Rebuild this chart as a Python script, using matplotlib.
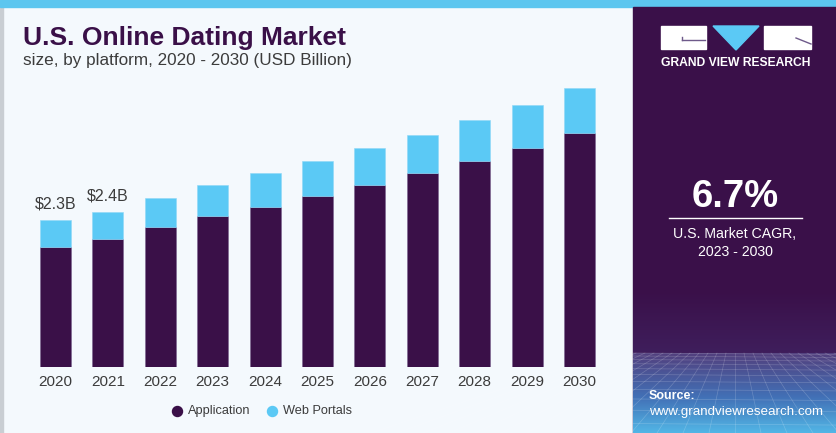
import numpy as np
import matplotlib
matplotlib.use("Agg")
import matplotlib.pyplot as plt
from matplotlib.patches import Rectangle, Polygon
from matplotlib.colors import to_rgb

plt.rcParams['font.family'] = ['Liberation Sans', 'DejaVu Sans']

years = ["2020", "2021", "2022", "2023", "2024", "2025", "2026", "2027", "2028", "2029", "2030"]
application = [1.88, 2.00, 2.19, 2.36, 2.50, 2.67, 2.84, 3.03, 3.22, 3.42, 3.66]
web_portals = [0.42, 0.42, 0.45, 0.48, 0.53, 0.55, 0.58, 0.59, 0.64, 0.67, 0.70]
bar_labels = {0: "$2.3B", 1: "$2.4B"}
series_names = ["Application", "Web Portals"]

C_APP = "#3A1048"
C_WEB = "#5BC9F5"
C_BG = "#F4F9FD"
C_PANEL = "#3A1049"

W, H = 836, 433
fig = plt.figure(figsize=(W / 100, H / 100), dpi=100)

# background layer in pixel coordinates
bg = fig.add_axes([0, 0, 1, 1], zorder=-1)
bg.set_xlim(0, W)
bg.set_ylim(H, 0)
bg.axis("off")
bg.add_patch(Rectangle((0, 0), W, H, color=C_BG))
bg.add_patch(Rectangle((0, 0), 2.5, H, color="#C9CED3"))
bg.add_patch(Rectangle((0, 0), W, 7, color="#5CC6EF"))
bg.add_patch(Rectangle((633, 7), W - 633, H - 7, color=C_PANEL))

# upper subtle gradient and lower blue gradient in panel
top_c = np.array(to_rgb("#3A1049"))
mid_c = np.array(to_rgb("#3F1E5C"))
g1 = np.linspace(0, 1, 60)[:, None]
grad1 = (top_c * (1 - g1) + mid_c * g1)[:, None, :]
bg.imshow(grad1, extent=[633, W, 353, 290], aspect="auto", zorder=1)
c_a = np.array(to_rgb("#52407E"))
c_b = np.array(to_rgb("#4270B6"))
c_c = np.array(to_rgb("#52B6E6"))
t = np.linspace(0, 1, 100)[:, None]
grad2 = np.where(t < 0.55, c_a * (1 - t / 0.55) + c_b * (t / 0.55),
                 c_b * (1 - (t - 0.55) / 0.45) + c_c * ((t - 0.55) / 0.45))
bg.imshow(grad2[:, None, :], extent=[633, W, H, 353], aspect="auto", zorder=1)
# mesh lines (decorative)
for k in range(-14, 15):
    x0 = 735 + k * 9
    x1 = 735 + k * 26
    bg.plot([x0, x1], [353, H], color="white", lw=0.5, alpha=0.2, zorder=2)
yy = 353
step = 3.0
while yy < H:
    bg.plot([633, W], [yy, yy + 1.5], color="white", lw=0.5, alpha=0.2, zorder=2)
    yy += step
    step *= 1.18

# logo
bg.add_patch(Rectangle((661, 26), 45, 23, color="white", zorder=3))
bg.add_patch(Polygon([[713, 26], [759, 26], [736, 50]], closed=True, color=C_WEB, zorder=3))
bg.add_patch(Rectangle((764, 26), 47, 23, color="white", zorder=3))
bg.plot([682, 705], [40, 40], color="#6E5A8A", lw=1.0, zorder=4)
bg.plot([682, 682], [36.5, 40], color="#6E5A8A", lw=1.0, zorder=4)
bg.plot([796, 811], [38, 44], color="#6E5A8A", lw=1.0, zorder=4)
bg.text(736, 63, "GRAND VIEW RESEARCH", color="white", fontsize=8.7, fontweight="bold",
        ha="center", va="center", zorder=4)

# CAGR block
bg.text(735, 197, "6.7%", color="white", fontsize=27.5, fontweight="bold", ha="center", va="center", zorder=4)
bg.plot([669, 802], [218, 218], color="white", lw=1.0, zorder=4)
bg.text(735, 234, "U.S. Market CAGR,", color="white", fontsize=10.2, ha="center", va="center", zorder=4)
bg.text(735, 252, "2023 - 2030", color="white", fontsize=10.2, ha="center", va="center", zorder=4)

# source
bg.text(649, 396, "Source:", color="white", fontsize=9, fontweight="bold", ha="left", va="center", zorder=4)
bg.text(649, 412, "www.grandviewresearch.com", color="white", fontsize=9.6, ha="left", va="center", zorder=4)

# title
bg.text(23, 45, "U.S. Online Dating Market", color=C_APP, fontsize=19, fontweight="bold",
        ha="left", va="baseline", zorder=4)
bg.text(23, 61, "size, by platform, 2020 - 2030 (USD Billion)", color="#3C3C3C", fontsize=12.3,
        ha="left", va="center", zorder=4)

# chart
ax = fig.add_axes([0.035, 0.1524, 0.6895, 0.6799])
ax.patch.set_alpha(0)
x = np.arange(len(years))
ax.bar(x, application, width=0.59, color=C_APP, edgecolor="#7A6390", linewidth=0.4, zorder=2)
ax.bar(x, web_portals, width=0.59, bottom=application, color=C_WEB, edgecolor="#8FD8F7", linewidth=0.4, zorder=2)
for i, lab in bar_labels.items():
    ax.annotate(lab, (x[i], application[i] + web_portals[i]), xytext=(0, 6), textcoords="offset points",
                ha="center", va="bottom", fontsize=11.5, color="#3C3C3C")
ax.set_xlim(-0.5, len(years) - 0.5)
ax.set_ylim(0, 4.6)
ax.set_xticks(x)
ax.set_xticklabels(years, fontsize=11, color="#3C3C3C")
ax.tick_params(axis="x", length=0, pad=6)
ax.set_yticks([])
for s in ax.spines.values():
    s.set_visible(False)

# legend
bg.scatter([177], [411], s=52, color=C_APP, zorder=4)
bg.text(188, 411, series_names[0], fontsize=9.2, color="#3C3C3C", va="center", ha="left", zorder=4)
bg.scatter([272], [411], s=52, color=C_WEB, zorder=4)
bg.text(283, 411, series_names[1], fontsize=9.2, color="#3C3C3C", va="center", ha="left", zorder=4)

fig.savefig("out.png", dpi=100)
